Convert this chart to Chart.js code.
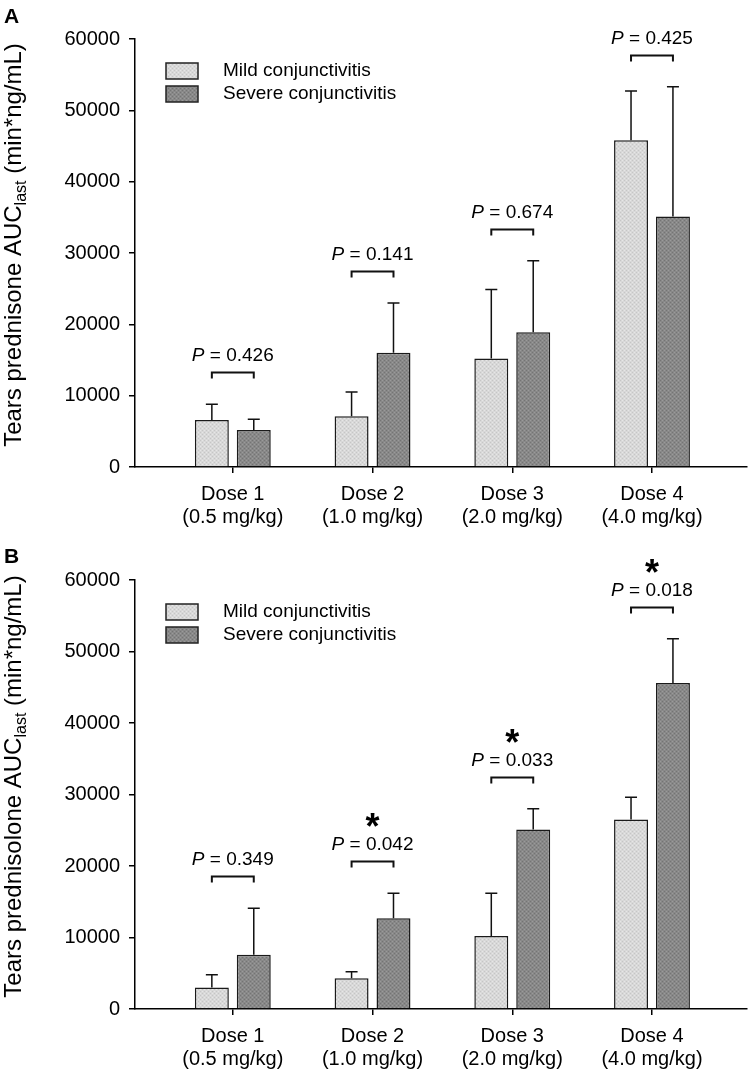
<!DOCTYPE html>
<html>
<head>
<meta charset="utf-8">
<script src="https://cdn.jsdelivr.net/npm/chart.js@4.4.0/dist/chart.umd.min.js"></script>
<style>
  body { margin: 0; background: #fff; }
  .panel { position: absolute; left: 0; width: 750px; }
  #panel-a { top: 0; height: 535px; }
  #panel-b { top: 535px; height: 536px; }
</style>
</head>
<body>
<div class="panel" id="panel-a"><canvas id="chart-a"></canvas></div>
<div class="panel" id="panel-b"><canvas id="chart-b"></canvas></div>
<script>
const doseLabels = [['Dose 1', '(0.5 mg/kg)'], ['Dose 2', '(1.0 mg/kg)'], ['Dose 3', '(2.0 mg/kg)'], ['Dose 4', '(4.0 mg/kg)']];
const dosePositions = [1, 2, 3, 4];
const yTicks = [0, 10000, 20000, 30000, 40000, 50000, 60000];
const seriesNames = ['Mild conjunctivitis', 'Severe conjunctivitis'];

// A - tears prednisone
const mildA = [6600, 7100, 15200, 45800];
const mildErrA = [2200, 3400, 9700, 6900];
const severeA = [5200, 16000, 18900, 35100];
const severeErrA = [1500, 7000, 10000, 18200];
const pValuesA = ['0.426', '0.141', '0.674', '0.425'];
const starsA = [false, false, false, false];

// B - tears prednisolone
const mildB = [3000, 4300, 10200, 26500];
const mildErrB = [1800, 900, 6000, 3100];
const severeB = [7600, 12700, 25100, 45600];
const severeErrB = [6500, 3500, 2900, 6200];
const pValuesB = ['0.349', '0.042', '0.033', '0.018'];
const starsB = [false, true, true, true];

const FONT = '"Liberation Sans", Arial, Helvetica, sans-serif';
Chart.defaults.font.family = FONT;
Chart.defaults.color = '#000';

// small stipple so the bars look like the printed texture
function stipple(base, dark, light) {
  const c = document.createElement('canvas');
  c.width = 4; c.height = 4;
  const g = c.getContext('2d');
  g.fillStyle = base; g.fillRect(0, 0, 4, 4);
  g.fillStyle = dark; g.fillRect(0, 0, 1, 1); g.fillRect(2, 2, 1, 1);
  g.fillStyle = light; g.fillRect(2, 0, 1, 1); g.fillRect(0, 2, 1, 1);
  return g.createPattern(c, 'repeat');
}
const mildFill = stipple('#d8d8d8', '#c6c6c6', '#e6e6e6');
const severeFill = stipple('#888888', '#747474', '#9a9a9a');

const errorBarPlugin = {
  id: 'errorBars',
  afterDatasetsDraw(chart) {
    const ctx = chart.ctx;
    const y = chart.scales.y;
    ctx.save();
    ctx.strokeStyle = '#111';
    ctx.lineWidth = 1.5;
    chart.data.datasets.forEach((ds, di) => {
      chart.getDatasetMeta(di).data.forEach((bar, i) => {
        const top = y.getPixelForValue(ds.data[i].y + ds.errors[i]);
        ctx.beginPath();
        ctx.moveTo(bar.x, bar.y);
        ctx.lineTo(bar.x, top);
        ctx.moveTo(bar.x - 6, top);
        ctx.lineTo(bar.x + 6, top);
        ctx.stroke();
      });
    });
    ctx.restore();
  }
};

const bracketPlugin = {
  id: 'pBrackets',
  afterDatasetsDraw(chart, args, opts) {
    const ctx = chart.ctx;
    const y = chart.scales.y;
    const ds = chart.data.datasets;
    const mild = chart.getDatasetMeta(0).data;
    const severe = chart.getDatasetMeta(1).data;
    ctx.save();
    opts.pValues.forEach((p, i) => {
      const topVal = Math.max(ds[0].data[i].y + ds[0].errors[i], ds[1].data[i].y + ds[1].errors[i]);
      const by = Math.round(y.getPixelForValue(topVal) - 32) + 0.5;
      const x1 = mild[i].x, x2 = severe[i].x;
      ctx.strokeStyle = '#111';
      ctx.lineWidth = 2;
      ctx.beginPath();
      ctx.moveTo(x1, by + 6);
      ctx.lineTo(x1, by);
      ctx.lineTo(x2, by);
      ctx.lineTo(x2, by + 6);
      ctx.stroke();

      const cx = (x1 + x2) / 2;
      const ty = by - 17;
      const rest = ' = ' + p;
      ctx.font = 'italic 19px ' + FONT;
      const wP = ctx.measureText('P').width;
      ctx.font = '19px ' + FONT;
      const wR = ctx.measureText(rest).width;
      const x0 = cx - (wP + wR) / 2;
      ctx.fillStyle = '#000';
      ctx.textAlign = 'left';
      ctx.textBaseline = 'middle';
      ctx.font = 'italic 19px ' + FONT;
      ctx.fillText('P', x0, ty);
      ctx.font = '19px ' + FONT;
      ctx.fillText(rest, x0 + wP, ty);

      if (opts.stars[i]) {
        ctx.font = 'bold 36px ' + FONT;
        ctx.textAlign = 'center';
        ctx.textBaseline = 'alphabetic';
        ctx.fillText('*', cx, ty - 28 + 22);
      }
    });
    ctx.restore();
  }
};

const legendPlugin = {
  id: 'boxLegend',
  afterDraw(chart) {
    const ctx = chart.ctx;
    const a = chart.chartArea;
    ctx.save();
    chart.data.datasets.forEach((ds, i) => {
      const bx = a.left + 31, by = a.top + 24 + i * 23;
      ctx.fillStyle = ds.backgroundColor;
      ctx.fillRect(bx, by, 32, 16);
      ctx.strokeStyle = '#222';
      ctx.lineWidth = 1.5;
      ctx.strokeRect(bx, by, 32, 16);
      ctx.fillStyle = '#000';
      ctx.font = '19px ' + FONT;
      ctx.textAlign = 'left';
      ctx.textBaseline = 'middle';
      ctx.fillText(ds.label, bx + 57, by + 8);
    });
    ctx.restore();
  }
};

// rotated y title with the "last" subscript, plus the panel letter
const titlePlugin = {
  id: 'panelText',
  afterDraw(chart, args, opts) {
    const ctx = chart.ctx;
    const a = chart.chartArea;
    ctx.save();
    ctx.fillStyle = '#000';
    ctx.font = 'bold 21px ' + FONT;
    ctx.textAlign = 'left';
    ctx.textBaseline = 'alphabetic';
    ctx.fillText(opts.letter, 4, opts.letterY);

    const big = '24px ' + FONT, small = '16px ' + FONT;
    const parts = [[opts.title[0], big, 0], [opts.title[1], small, 5], [opts.title[2], big, 0]];
    let total = 0;
    parts.forEach(p => { ctx.font = p[1]; total += ctx.measureText(p[0]).width; });
    ctx.translate(21, (a.top + a.bottom) / 2 - 8);
    ctx.rotate(-Math.PI / 2);
    let x = -total / 2;
    parts.forEach(p => {
      ctx.font = p[1];
      ctx.fillText(p[0], x, p[2]);
      x += ctx.measureText(p[0]).width;
    });
    ctx.restore();
  }
};

function buildPanel(canvasId, cfg) {
  const axisGrid = { drawOnChartArea: false, drawTicks: true, tickLength: 6, color: '#000', lineWidth: 1.5 };
  const axisBorder = { display: true, color: '#000', width: 1.5 };
  return new Chart(document.getElementById(canvasId), {
    type: 'bar',
    data: {
      datasets: [
        {
          label: seriesNames[0],
          data: dosePositions.map((x, i) => ({ x: x, y: cfg.mild[i] })),
          errors: cfg.mildErr,
          backgroundColor: mildFill,
          borderColor: '#1a1a1a',
          borderWidth: 1.5
        },
        {
          label: seriesNames[1],
          data: dosePositions.map((x, i) => ({ x: x, y: cfg.severe[i] })),
          errors: cfg.severeErr,
          backgroundColor: severeFill,
          borderColor: '#1a1a1a',
          borderWidth: 1.5
        }
      ]
    },
    options: {
      responsive: true,
      maintainAspectRatio: false,
      animation: false,
      events: [],
      layout: { padding: { top: cfg.top, right: 3, bottom: 0, left: 0 } },
      datasets: { bar: { categoryPercentage: 0.6, barPercentage: 0.81 } },
      scales: {
        x: {
          type: 'linear',
          min: 0.3,
          max: 4.68,
          offset: false,
          afterFit: s => { s.height = cfg.xHeight; },
          afterBuildTicks: s => { s.ticks = dosePositions.map(v => ({ value: v })); },
          ticks: {
            callback: v => doseLabels[Math.round(v) - 1],
            font: { size: 20, lineHeight: 1.15 },
            color: '#000',
            padding: 10,
            autoSkip: false,
            maxRotation: 0
          },
          grid: Object.assign({ offset: false }, axisGrid),
          border: axisBorder
        },
        y: {
          min: 0,
          max: 60000,
          afterFit: s => { s.width = 135; },
          afterBuildTicks: s => { s.ticks = yTicks.map(v => ({ value: v })); },
          ticks: { callback: v => String(v), font: { size: 20 }, color: '#000', padding: 9 },
          grid: axisGrid,
          border: axisBorder
        }
      },
      plugins: {
        legend: { display: false },
        tooltip: { enabled: false },
        pBrackets: { pValues: cfg.pValues, stars: cfg.stars },
        panelText: { letter: cfg.letter, letterY: cfg.letterY, title: cfg.title }
      }
    },
    plugins: [errorBarPlugin, bracketPlugin, legendPlugin, titlePlugin]
  });
}

buildPanel('chart-a', {
  mild: mildA, mildErr: mildErrA, severe: severeA, severeErr: severeErrA,
  pValues: pValuesA, stars: starsA,
  top: 39, xHeight: 68,
  letter: 'A', letterY: 23,
  title: ['Tears prednisone AUC', 'last', ' (min*ng/mL)']
});

buildPanel('chart-b', {
  mild: mildB, mildErr: mildErrB, severe: severeB, severeErr: severeErrB,
  pValues: pValuesB, stars: starsB,
  top: 45, xHeight: 62,
  letter: 'B', letterY: 28,
  title: ['Tears prednisolone AUC', 'last', ' (min*ng/mL)']
});
</script>
</body>
</html>
